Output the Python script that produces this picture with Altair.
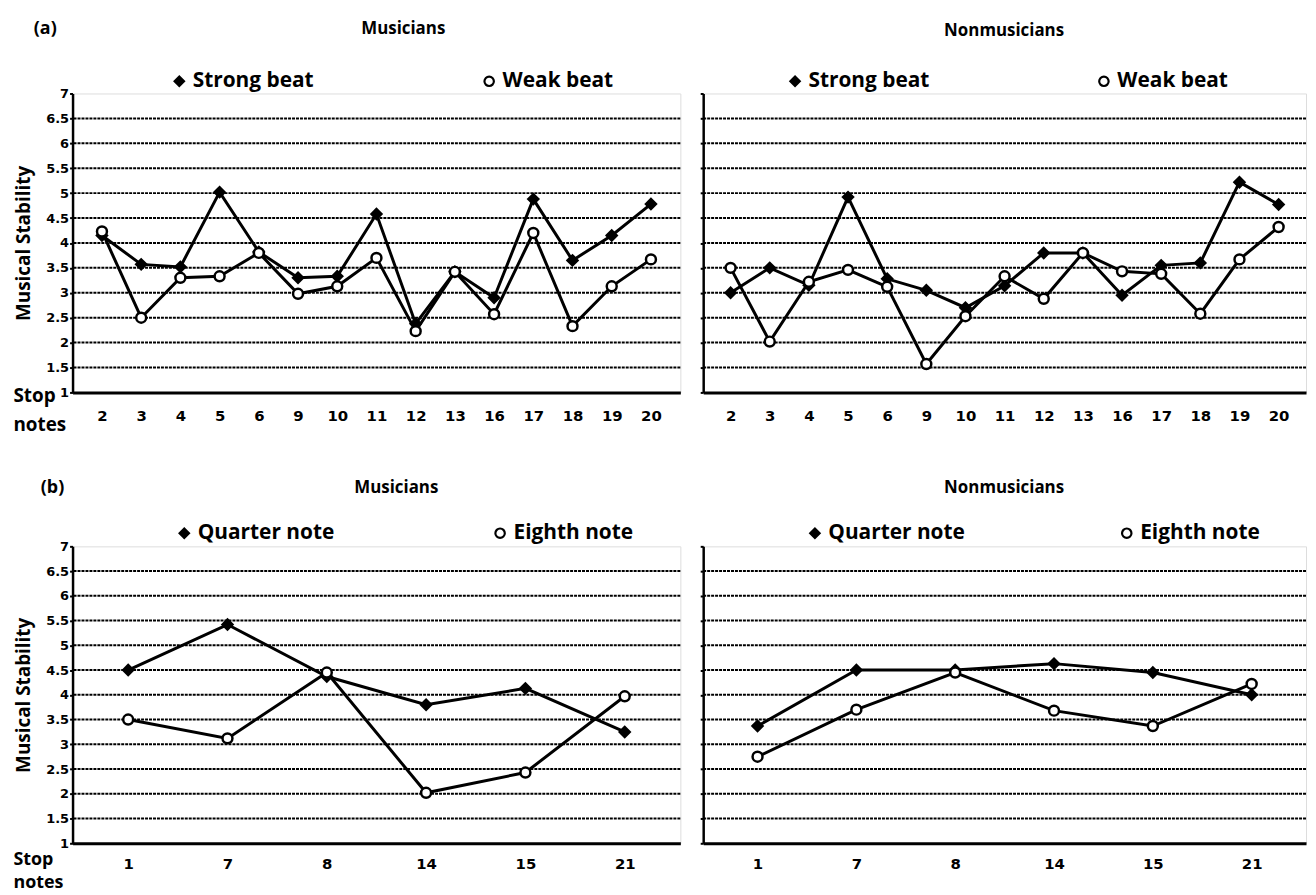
import altair as alt
import pandas as pd

# ---- data ----
stops_a = ["2", "3", "4", "5", "6", "9", "10", "11", "12", "13", "16", "17", "18", "19", "20"]
names_a = ["Strong beat", "Weak beat"]
mus_strong = [4.15, 3.57, 3.52, 5.02, 3.82, 3.30, 3.33, 4.58, 2.38, 3.42, 2.90, 4.88, 3.65, 4.15, 4.78]
mus_weak = [4.23, 2.50, 3.30, 3.33, 3.80, 2.98, 3.13, 3.70, 2.23, 3.42, 2.57, 4.20, 2.33, 3.13, 3.67]
non_strong = [3.00, 3.50, 3.15, 4.92, 3.28, 3.05, 2.70, 3.14, 3.80, 3.80, 2.95, 3.55, 3.60, 5.22, 4.77]
non_weak = [3.50, 2.02, 3.22, 3.46, 3.12, 1.57, 2.53, 3.33, 2.88, 3.80, 3.43, 3.38, 2.58, 3.67, 4.32]

stops_b = ["1", "7", "8", "14", "15", "21"]
names_b = ["Quarter note", "Eighth note"]
mus_quarter = [4.50, 5.42, 4.37, 3.80, 4.13, 3.25]
mus_eighth = [3.50, 3.12, 4.45, 2.02, 2.43, 3.97]
non_quarter = [3.37, 4.50, 4.50, 4.63, 4.45, 4.00]
non_eighth = [2.75, 3.70, 4.45, 3.68, 3.37, 4.22]

y_ticks = [1, 1.5, 2, 2.5, 3, 3.5, 4, 4.5, 5, 5.5, 6, 6.5, 7]
grid_vals = [1.5, 2, 2.5, 3, 3.5, 4, 4.5, 5, 5.5, 6, 6.5]

TICK_FONT = "DejaVu Sans"
TEXT_FONT = "Open Sans"


def panel(stops, names, s1, s2, *, left, pad, width, height, title, title_x, title_y,
          legend_x, legend_y, legend_gap, stop_y, stop_lh, stop_fs, label_pad, tag=None):
    n = len(stops)
    df = pd.DataFrame({
        "stop": stops * 2,
        "value": s1 + s2,
        "series": [names[0]] * n + [names[1]] * n,
    })
    x_axis_kw = dict(labelAngle=0, ticks=False, domainColor="black", domainWidth=3,
                     labelFont=TICK_FONT, labelFontWeight="bold", labelFontSize=15,
                     labelColor="black", labelPadding=label_pad, grid=False)
    if left:
        x_axis_kw.update(title=["Stop", "notes"], titleFont=TEXT_FONT, titleFontSize=stop_fs,
                         titleFontWeight="bold", titleColor="black", titleAnchor="start",
                         titleAlign="left", titleBaseline="top", titleX=-60, titleY=stop_y,
                         titleLineHeight=stop_lh)
    else:
        x_axis_kw.update(title="")
    y_axis_kw = dict(values=y_ticks, format="~g", domainColor="black", domainWidth=2.5,
                     tickColor="black", tickSize=3, tickWidth=2, grid=False)
    if left:
        y_axis_kw.update(labelFont=TICK_FONT, labelFontWeight="bold", labelFontSize=13,
                         labelColor="black", labelPadding=1, labelOverlap=False,
                         title="Musical Stability", titleFont=TEXT_FONT, titleFontSize=19,
                         titleFontWeight="bold", titleColor="black", titlePadding=12)
    else:
        y_axis_kw.update(labels=False, title="")

    y_scale = alt.Scale(domain=[1, 7], nice=False, zero=False)
    x = alt.X("stop:N", sort=stops, scale=alt.Scale(padding=pad), axis=alt.Axis(**x_axis_kw))
    y = alt.Y("value:Q", scale=y_scale, axis=alt.Axis(**y_axis_kw))
    yg = alt.Y("g:Q", scale=y_scale, axis=alt.Axis(**y_axis_kw))

    leg = alt.Legend(orient="none", legendX=legend_x, legendY=legend_y, direction="horizontal",
                     title=None, labelFont=TEXT_FONT, labelFontSize=21, labelFontWeight="bold",
                     labelColor="black", symbolSize=90, symbolStrokeColor="black",
                     symbolStrokeWidth=2.2, labelOffset=3, columnPadding=legend_gap, padding=0)

    grid = alt.Chart(pd.DataFrame({"g": grid_vals})).mark_rule(
        color="black", strokeWidth=2, strokeDash=[3, 1]
    ).encode(y=yg)

    lines = alt.Chart(df).mark_line(color="black", strokeWidth=3).encode(
        x=x, y=y, detail="series:N")

    pts = alt.Chart(df).mark_point(filled=True, size=100, strokeWidth=2.5, opacity=1).encode(
        x=x, y=y,
        shape=alt.Shape("series:N", scale=alt.Scale(domain=names, range=["diamond", "circle"]),
                        legend=leg),
        fill=alt.Fill("series:N", scale=alt.Scale(domain=names, range=["black", "white"]),
                      legend=leg),
        stroke=alt.Stroke("series:N", scale=alt.Scale(domain=names, range=["black", "black"]),
                          legend=leg),
    )
    labels = [(title, title_x, title_y, "center", 17)]
    if tag is not None:
        labels.append(tag)
    texts = []
    for t, tx, ty, al, fs in labels:
        texts.append(
            alt.Chart(pd.DataFrame({"t": [t]})).mark_text(
                font=TEXT_FONT, fontSize=fs, fontWeight="bold", color="black", align=al,
                baseline="middle"
            ).encode(text="t:N", x=alt.value(tx), y=alt.value(ty))
        )
    return alt.layer(grid, lines, pts, *texts).properties(
        width=width, height=height,
    ).resolve_scale(shape="independent", fill="independent", stroke="independent")


a_left = panel(stops_a, names_a, mus_strong, mus_weak, left=True, pad=0.75, width=612,
               height=301, title="Musicians", title_x=333, title_y=-65,
               legend_x=97, legend_y=-23, legend_gap=166, stop_y=-6, stop_lh=29, stop_fs=19,
               label_pad=16, tag=("(a)", -39, -65, "left", 18))
a_right = panel(stops_a, names_a, non_strong, non_weak, left=False, pad=0.7, width=607,
                height=301, title="Nonmusicians", title_x=303, title_y=-63,
                legend_x=82, legend_y=-23, legend_gap=165, stop_y=-6, stop_lh=29, stop_fs=19,
                label_pad=16)
b_left = panel(stops_b, names_b, mus_quarter, mus_eighth, left=True, pad=0.56, width=612,
               height=299, title="Musicians", title_x=326, title_y=-59,
               legend_x=102, legend_y=-24, legend_gap=156, stop_y=7, stop_lh=24, stop_fs=18,
               label_pad=13, tag=("(b)", -32, -59, "left", 18))
b_right = panel(stops_b, names_b, non_quarter, non_eighth, left=False, pad=0.55, width=607,
                height=299, title="Nonmusicians", title_x=303, title_y=-59,
                legend_x=102, legend_y=-24, legend_gap=152, stop_y=7, stop_lh=24, stop_fs=18,
                label_pad=13)

top = alt.hconcat(a_left, a_right, spacing=16).resolve_scale(
    shape="independent", fill="independent", stroke="independent").resolve_legend(
    shape="independent", fill="independent", stroke="independent")
bottom = alt.hconcat(b_left, b_right, spacing=16).resolve_scale(
    shape="independent", fill="independent", stroke="independent").resolve_legend(
    shape="independent", fill="independent", stroke="independent")

chart = alt.vconcat(top, bottom, spacing=43).resolve_scale(
    shape="independent", fill="independent", stroke="independent").resolve_legend(
    shape="independent", fill="independent", stroke="independent").properties(
    padding={"left": 4, "top": 8, "right": 0, "bottom": 0}).configure_view(
    stroke=None).configure(background="white")

chart.save("out.html", embed_options={"renderer": "svg", "actions": False})
